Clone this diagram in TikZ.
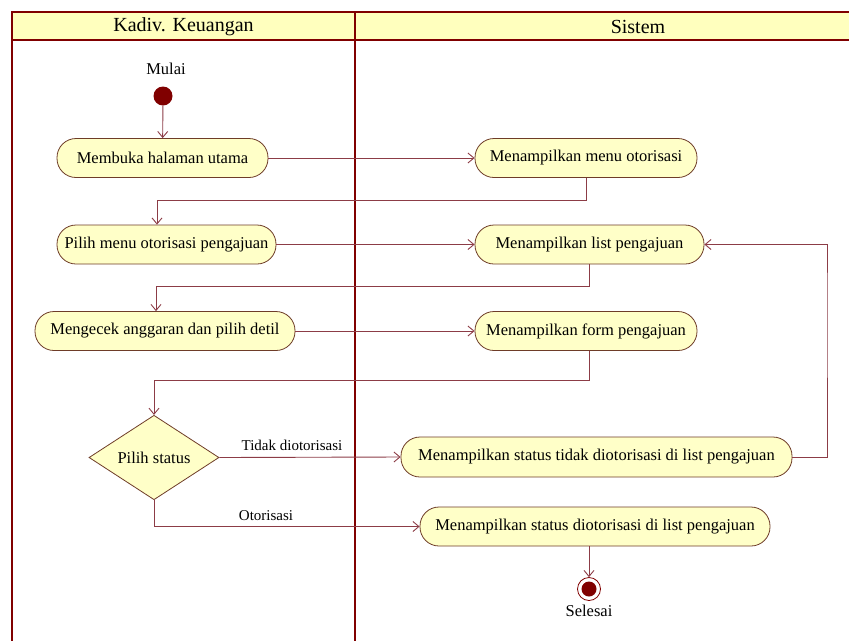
\documentclass[tikz,border=0pt]{standalone}
\usepackage{fontspec}
\setmainfont{Liberation Serif}
\usetikzlibrary{shapes.geometric,arrows.meta}
\definecolor{laneRed}{RGB}{128,0,0}
\definecolor{flowRed}{RGB}{140,60,70}
\definecolor{nodeFill}{RGB}{255,255,200}
\definecolor{nodeBorder}{RGB}{110,60,40}
\definecolor{headFill}{RGB}{255,255,190}
\begin{document}
\begin{tikzpicture}[x=1pt,y=-1pt,
  lane/.style={draw=laneRed,line width=2.2pt},
  act/.style={draw=nodeBorder,fill=nodeFill,rounded corners=19pt,minimum height=39pt,
    inner sep=0pt,line width=0.8pt,font=\fontsize{16.5}{19}\selectfont},
  decis/.style={diamond,draw=nodeBorder,fill=nodeFill,minimum width=130pt,minimum height=81pt,
    inner sep=0pt,line width=0.8pt,font=\fontsize{16.5}{19}\selectfont},
  flow/.style={draw=flowRed,line width=0.9pt,-{Straight Barb[length=6pt,width=10pt]}},
  lbl/.style={font=\fontsize{15}{17}\selectfont},
  head/.style={font=\fontsize{20}{22}\selectfont}]
\useasboundingbox (0,0) rectangle (849,641);
% swimlanes
\fill[headFill] (12,12) rectangle (849,40);
\draw[lane] (849,12) -- (12,12) -- (12,641);
\draw[lane] (12,40) -- (849,40);
\draw[lane] (355,12) -- (355,641);
\node[head] (h1) at (183.5,27) {Kadiv. Keuangan};
\node[head] (h2) at (638,27) {Sistem};
% start
\node[lbl,font=\fontsize{16.5}{19}\selectfont] (mulai) at (166,69) {Mulai};
\node[circle,fill=laneRed,minimum size=19pt,inner sep=0pt] (start) at (163,96) {};
% activities
\node[act,minimum width=211pt] (n1) at (162.5,158) {Membuka halaman utama};
\node[act,minimum width=222pt] (n2) at (586,158) {Menampilkan menu otorisasi};
\node[act,minimum width=219pt] (n3) at (166.5,244.5) {Pilih menu otorisasi pengajuan};
\node[act,minimum width=229pt] (n4) at (589.5,244.5) {Menampilkan list pengajuan};
\node[act,minimum width=260pt] (n5) at (165,331) {Mengecek anggaran dan pilih detil};
\node[act,minimum width=222pt] (n6) at (586,331) {Menampilkan form pengajuan};
\node[decis] (d) at (154,457.5) {Pilih status};
\node[act,minimum width=391pt,minimum height=40pt] (n7) at (596.5,457) {Menampilkan status tidak diotorisasi di list pengajuan};
\node[act,minimum width=350pt] (n8) at (595,526.5) {Menampilkan status diotorisasi di list pengajuan};
% end
\node[circle,draw=laneRed,fill=white,line width=0.8pt,minimum size=23pt,inner sep=0pt] (end) at (589,589) {};
\node[circle,fill=laneRed,minimum size=15pt,inner sep=0pt] (endin) at (589,589) {};
\node[lbl,font=\fontsize{16.5}{19}\selectfont] (selesai) at (589,611) {Selesai};
% coordinates
\coordinate (c1) at (157,200);
\coordinate (c2) at (156,286);
\coordinate (c3) at (154,380);
\coordinate (c4) at (827,300);
% connectors
\draw[flow] (start) -- (n1);
\draw[flow] (n1) -- (n2);
\draw[flow] (n2.south) |- (c1) -- (c1 |- n3.north);
\draw[flow] (n3) -- (n4);
\draw[flow] (n4.south) |- (c2) -- (c2 |- n5.north);
\draw[flow] (n5) -- (n6);
\draw[flow] (n6.south -| n4.south) |- (c3) -- (d.north);
\draw[flow] (d.east) -- (n7.west);
\draw[flow] (n7.east) -| (c4) |- (n4.east);
\draw[flow] (d.south) |- (n8.west);
\draw[flow] (n8.south -| end) -- (end);
% labels
\node[lbl] (t1) at (292,445) {Tidak diotorisasi};
\node[lbl] (t2) at (266,516) {Otorisasi};
\end{tikzpicture}
\end{document}
